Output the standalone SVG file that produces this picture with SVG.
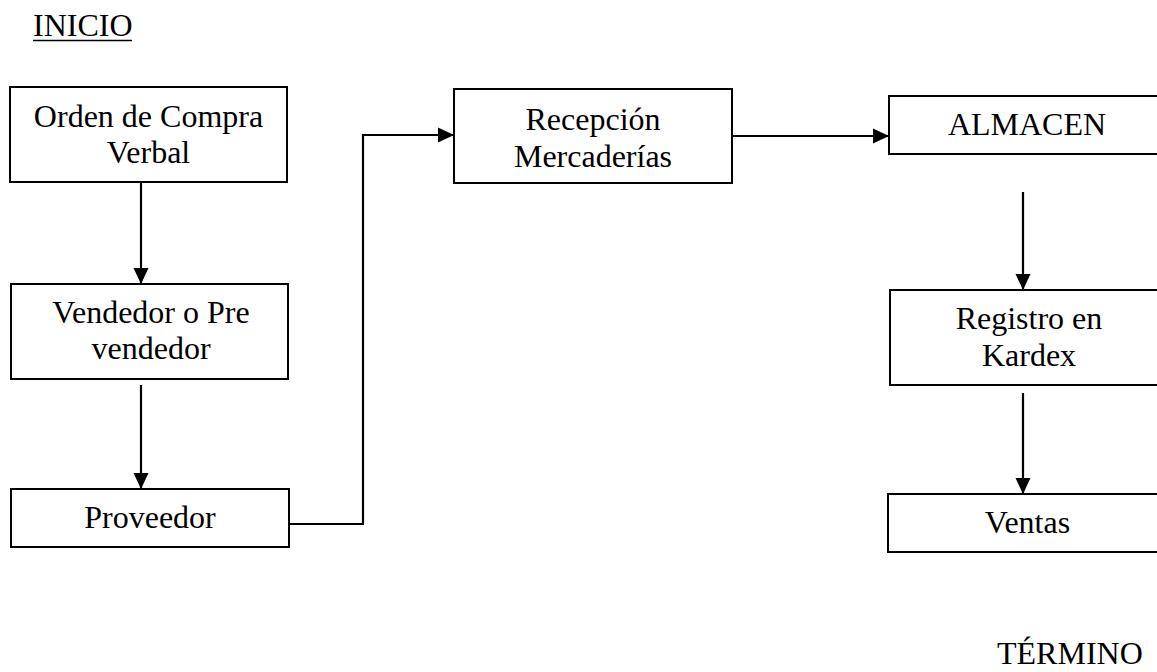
<svg xmlns="http://www.w3.org/2000/svg" width="1157" height="672" viewBox="0 0 1157 672">
<style>
.box{fill:#fff;stroke:#000;stroke-width:2}
.t{font-family:"Liberation Serif","Times New Roman",serif;font-size:32px;fill:#000}
.c{text-anchor:middle}
.ln{fill:none;stroke:#000;stroke-width:2.2}
</style>
<defs>
<marker id="ah" markerUnits="userSpaceOnUse" markerWidth="16" markerHeight="16" viewBox="0 0 16 16" refX="16" refY="8" orient="auto">
<path d="M0,0.5 L16,8 L0,15.5 Z" fill="#000"/>
</marker>
</defs>
<rect width="1157" height="672" fill="#fff"/>
<g id="inicio">
<text class="t" x="33" y="36">INICIO</text>
<line x1="33" y1="40.5" x2="132" y2="40.5" stroke="#000" stroke-width="1.6"/>
</g>
<g id="termino">
<text class="t" x="997" y="664">TÉRMINO</text>
</g>
<g id="connectors">
<line class="ln" x1="141" y1="183" x2="141" y2="284" marker-end="url(#ah)"/>
<line class="ln" x1="141" y1="385" x2="141" y2="489" marker-end="url(#ah)"/>
<polyline class="ln" points="289,524 363,524 363,135 454,135" marker-end="url(#ah)"/>
<line class="ln" x1="732" y1="136" x2="889" y2="136" marker-end="url(#ah)"/>
<line class="ln" x1="1023" y1="192" x2="1023" y2="290" marker-end="url(#ah)"/>
<line class="ln" x1="1023" y1="393" x2="1023" y2="494" marker-end="url(#ah)"/>
</g>
<g id="orden">
<rect class="box" x="10" y="87" width="277" height="95"/>
<text class="t c" x="148.5" y="127">Orden de Compra</text>
<text class="t c" x="148.5" y="163">Verbal</text>
</g>
<g id="vendedor">
<rect class="box" x="11" y="284" width="277" height="95"/>
<text class="t c" x="151" y="323">Vendedor o Pre</text>
<text class="t c" x="151" y="359">vendedor</text>
</g>
<g id="proveedor">
<rect class="box" x="11" y="489" width="278" height="58"/>
<text class="t c" x="150" y="528">Proveedor</text>
</g>
<g id="recepcion">
<rect class="box" x="454" y="89" width="278" height="94"/>
<text class="t c" x="593" y="130">Recepción</text>
<text class="t c" x="593" y="167">Mercaderías</text>
</g>
<g id="almacen">
<rect class="box" x="889" y="96" width="280" height="58"/>
<text class="t c" x="1027" y="135">ALMACEN</text>
</g>
<g id="registro">
<rect class="box" x="890" y="290" width="280" height="95"/>
<text class="t c" x="1029" y="329">Registro en</text>
<text class="t c" x="1029" y="366">Kardex</text>
</g>
<g id="ventas">
<rect class="box" x="888" y="494" width="280" height="58"/>
<text class="t c" x="1027.5" y="533">Ventas</text>
</g>
</svg>
